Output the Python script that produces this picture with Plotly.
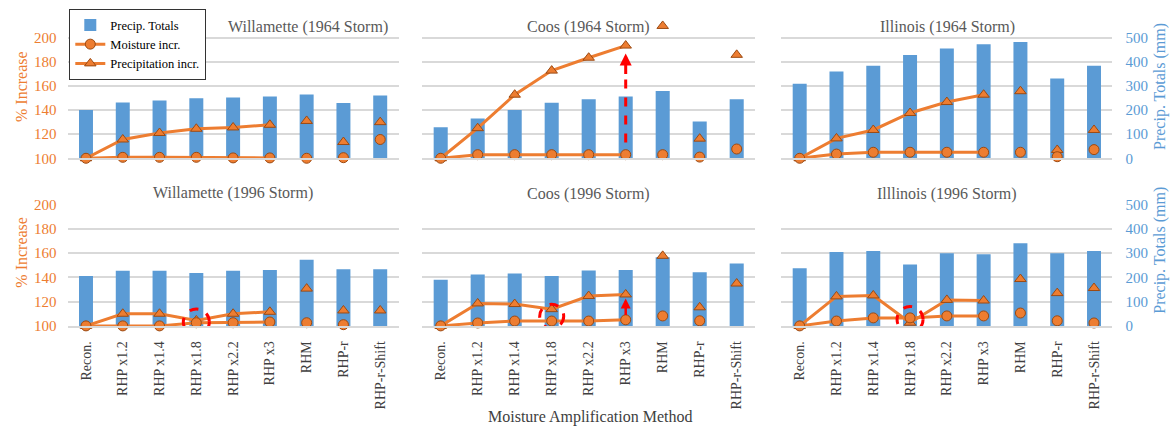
import plotly.graph_objects as go

# ---------------- data ----------------
categories = ["Recon.", "RHP x1.2", "RHP x1.4", "RHP x1.8", "RHP x2.2",
              "RHP x3", "RHM", "RHP-r", "RHP-r-Shift"]

panel_titles = ["Willamette (1964 Storm)", "Coos (1964 Storm)", "Illinois (1964 Storm)",
                "Willamette (1996 Storm)", "Coos (1996 Storm)", "Illlinois (1996 Storm)"]

# Precip. totals (mm, right axis)
willamette64_totals = [200, 232, 240, 249, 252, 256, 265, 229, 261]
coos64_totals = [129, 165, 200, 231, 245, 257, 279, 153, 245]
illinois64_totals = [309, 360, 384, 429, 456, 473, 483, 331, 384]
willamette96_totals = [206, 227, 227, 218, 227, 230, 272, 233, 233]
coos96_totals = [190, 212, 216, 206, 228, 230, 283, 221, 257]
illinois96_totals = [237, 304, 308, 253, 299, 295, 340, 299, 308]

# Moisture increase (% , left axis)
willamette64_moist = [100, 100.8, 100.8, 100.8, 100.3, 100.3, 100, 100.5, 115.6]
coos64_moist = [100, 103, 103, 103, 103, 103, 103, 101, 107.7]
illinois64_moist = [100, 103.5, 105, 105, 105, 105, 105, 101.3, 107.2]
willamette96_moist = [100, 100, 100, 102.6, 102.6, 103.2, 102.6, 101, None]
coos96_moist = [100, 102.4, 104, 104, 104, 105, 108.2, 104.2, None]
illinois96_moist = [100, 104, 106.6, 106.6, 108.2, 108.2, 110.6, 104.2, 102.4]

# Precipitation increase (%, left axis)
willamette64_precip = [100, 115.6, 121, 124.5, 125.6, 127.8, 131, 113.5, 130]
coos64_precip = [100, 125, 152.8, 172.8, 183.5, 193.6, 209.9, 116.3, 185.9]
illinois64_precip = [100, 116.5, 123.5, 137.6, 146.7, 152.8, 155.7, 106.9, 123.5]
willamette96_precip = [100, 110, 110, 104.5, 110, 111.6, 130.7, 112.7, 112.7]
coos96_precip = [100, 118.5, 118, 113.8, 124.6, 125.9, 157.7, 115.3, 134.9]
illinois96_precip = [100, 124.3, 125.1, 102.6, 121.4, 120.9, 138.6, 127, 131.2]

pct_ticks = [100, 120, 140, 160, 180, 200]
mm_ticks = [0, 100, 200, 300, 400, 500]

# ---------------- style ----------------
BLUE = "#5B9BD5"
ORANGE = "#ED7D31"
EDGE = "#9C4A12"
GRID = "#D9D9D9"
RED = "#FF0000"
FONT = "Liberation Serif"

panels = [
    (willamette64_totals, willamette64_moist, willamette64_precip),
    (coos64_totals, coos64_moist, coos64_precip),
    (illinois64_totals, illinois64_moist, illinois64_precip),
    (willamette96_totals, willamette96_moist, willamette96_precip),
    (coos96_totals, coos96_moist, coos96_precip),
    (illinois96_totals, illinois96_moist, illinois96_precip),
]

W, H = 1174, 436
x_domains = [[67.6 / W, 398.6 / W], [422.2 / W, 755.2 / W], [781.3 / W, 1112.4 / W]]
# top row extends a bit above 200 % so the off-scale point stays visible
y_domains = [[1 - 156 / H, 1 - 16 / H], [1 - 330 / H, 1 - 204 / H]]
pct_ranges = [[100, 212], [100, 200]]
mm_ranges = [[0, 560], [0, 500]]


def sid(n):
    return "" if n == 1 else str(n)


fig = go.Figure()
layout = {}

for k, (totals, moist, precip) in enumerate(panels):
    i = k + 1
    row, col = divmod(k, 3)
    xa = "x" + sid(i)
    yb = "y" + sid(2 * i - 1)   # base axis: mm (right)
    yo = "y" + sid(2 * i)       # overlay axis: % (left)
    leg = (k == 0)

    fig.add_trace(go.Bar(x=categories, y=totals, xaxis=xa, yaxis=yb,
                         marker=dict(color=BLUE, line=dict(width=0)), width=0.38,
                         name="Precip. Totals", showlegend=leg, legendrank=1))

    mk_tri = dict(symbol="triangle-up", size=10, color=ORANGE, line=dict(color=EDGE, width=1))
    mk_cir = dict(symbol="circle", size=10, color=ORANGE, line=dict(color=EDGE, width=1))

    fig.add_trace(go.Scatter(x=categories[:6], y=precip[:6], xaxis=xa, yaxis=yo,
                             mode="lines+markers", line=dict(color=ORANGE, width=3),
                             marker=mk_tri, name="Precipitation incr.",
                             showlegend=leg, legendrank=3, cliponaxis=False))
    fig.add_trace(go.Scatter(x=categories[6:], y=precip[6:], xaxis=xa, yaxis=yo,
                             mode="markers", marker=mk_tri, showlegend=False,
                             cliponaxis=False))
    fig.add_trace(go.Scatter(x=categories[:6], y=moist[:6], xaxis=xa, yaxis=yo,
                             mode="lines+markers", line=dict(color=ORANGE, width=3),
                             marker=mk_cir, name="Moisture incr.",
                             showlegend=leg, legendrank=2, cliponaxis=False))
    fig.add_trace(go.Scatter(x=categories[6:], y=moist[6:], xaxis=xa, yaxis=yo,
                             mode="markers", marker=mk_cir, showlegend=False,
                             cliponaxis=False))

    layout["xaxis" + sid(i)] = dict(
        domain=x_domains[col], anchor=yb, type="category",
        categoryorder="array", categoryarray=categories, range=[-0.5, 8.5],
        showgrid=False, zeroline=False, showline=True, linecolor=GRID, linewidth=1.5,
        ticks="", showticklabels=(row == 1), tickangle=-90, ticklabelstandoff=8,
        tickfont=dict(family=FONT, size=14, color="#404040"), fixedrange=True)
    layout["yaxis" + sid(2 * i - 1)] = dict(
        domain=y_domains[row], anchor=xa, side="right", range=mm_ranges[row],
        tickvals=mm_ticks, showgrid=True, gridcolor=GRID, gridwidth=1.5,
        zeroline=False, showline=False, ticks="",
        showticklabels=(col == 2), ticklabelstandoff=12,
        tickfont=dict(family=FONT, size=15, color=BLUE))
    layout["yaxis" + sid(2 * i)] = dict(
        overlaying=yb, anchor=xa, side="left", range=pct_ranges[row],
        tickvals=pct_ticks, showgrid=False, zeroline=False, showline=False, ticks="",
        showticklabels=(col == 0), ticklabelstandoff=10,
        tickfont=dict(family=FONT, size=15, color=ORANGE))

annotations = []
title_pos = [(308, 20), (588.5, 20), (947, 20), (233, 192), (588.5, 193), (947, 193)]
for t, (px, py) in zip(panel_titles, title_pos):
    annotations.append(dict(text=t, x=px / W, y=1 - py / H, xref="paper", yref="paper",
                            showarrow=False, xanchor="center", yanchor="middle",
                            font=dict(family=FONT, size=16, color="#595959")))

for py in (82, 254):
    annotations.append(dict(text="% Increase", x=22 / W, y=1 - py / H, xref="paper",
                            yref="paper", showarrow=False, textangle=-90,
                            xanchor="center", yanchor="middle",
                            font=dict(family=FONT, size=16, color=ORANGE)))
for py in (82, 252):
    annotations.append(dict(text="Precip. Totals (mm)", x=1160 / W, y=1 - py / H,
                            xref="paper", yref="paper", showarrow=False, textangle=-90,
                            xanchor="center", yanchor="middle",
                            font=dict(family=FONT, size=16, color=BLUE)))

annotations.append(dict(text="Moisture Amplification Method", x=590 / W, y=1 - 425 / H,
                        xref="paper", yref="paper", showarrow=False,
                        xanchor="center", yanchor="middle",
                        font=dict(family=FONT, size=16, color="#404040")))

# red arrow heads
annotations.append(dict(text="", x=5, y=187, xref="x2", yref="y4", ax=0, ay=22,
                        showarrow=True, arrowhead=2, arrowsize=0.8, arrowwidth=3,
                        arrowcolor=RED))
annotations.append(dict(text="", x=5, y=122.5, xref="x5", yref="y10", ax=0, ay=18,
                        showarrow=True, arrowhead=2, arrowsize=0.8, arrowwidth=2.5,
                        arrowcolor=RED))

shapes = [
    dict(type="line", xref="x2", yref="y4", x0=5, x1=5, y0=113, y1=171,
         line=dict(color=RED, width=3, dash="dash")),
    dict(type="circle", xref="x4", yref="y8", xsizemode="pixel", ysizemode="pixel",
         xanchor=3, yanchor=103.2, x0=-13, x1=13, y0=-13, y1=13,
         line=dict(color=RED, width=3, dash="dash")),
    dict(type="circle", xref="x5", yref="y10", xsizemode="pixel", ysizemode="pixel",
         xanchor=3, yanchor=107.9, x0=-12, x1=12, y0=-12, y1=12,
         line=dict(color=RED, width=3, dash="dash")),
    dict(type="circle", xref="x6", yref="y12", xsizemode="pixel", ysizemode="pixel",
         xanchor=3, yanchor=105.3, x0=-13, x1=13, y0=-13, y1=13,
         line=dict(color=RED, width=3, dash="dash")),
]

fig.update_layout(
    width=W, height=H, margin=dict(l=0, r=0, t=0, b=0),
    paper_bgcolor="white", plot_bgcolor="white",
    font=dict(family=FONT),
    bargap=0.6,
    legend=dict(x=69 / W, y=1 - 1 / H, xanchor="left", yanchor="top",
                bgcolor="white", bordercolor="#333333", borderwidth=1.3,
                font=dict(family=FONT, size=12.5, color="#000000"),
                itemwidth=30, tracegroupgap=0),
    annotations=annotations, shapes=shapes,
    **layout)

fig.write_html("out.html")
